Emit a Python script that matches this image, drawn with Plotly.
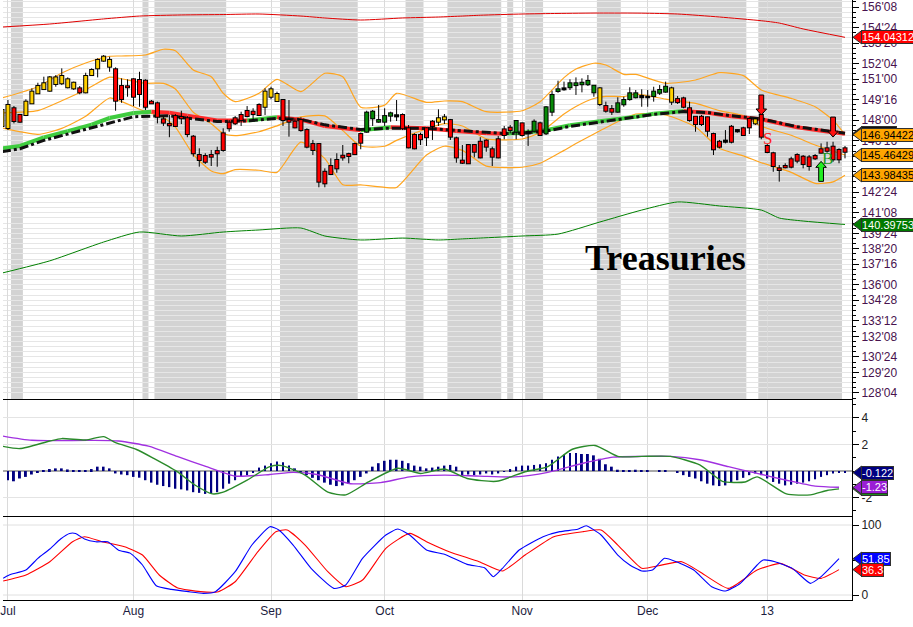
import numpy as np
import plotly.graph_objects as go
from plotly.subplots import make_subplots

FONT = "Liberation Sans, Arial, sans-serif"
SERIF = "Liberation Serif, Times New Roman, serif"
W, H = 913, 627
MR, MB = 61, 27
PLOT_W, PLOT_H = W - MR, H - MB

# ---------------------------------------------------------------------------
# Data: x is the trading-day index, 0 = Fri 29 Jun 2012, 141 = mid Jan 2013
# ---------------------------------------------------------------------------
MONTH_POS = [1, 22, 45, 64, 87, 108, 128]
MONTH_LABELS = ["Jul", "Aug", "Sep", "Oct", "Nov", "Dec", "13"]

OPEN = [147.58, 147.43, 148.87, 148.38, 148.38, 149.23, 149.96, 150.27, 150.15, 150.64,
        150.69, 150.40, 150.32, 150.32, 150.03, 151.29, 151.78, 152.34, 151.90, 151.71,
        150.49, 150.47, 150.98, 150.93, 150.88, 149.35, 149.23, 148.06, 147.72, 148.30,
        148.23, 148.14, 146.80, 145.46, 145.39, 145.46, 145.75, 147.04, 147.82, 148.14,
        148.38, 148.67, 148.62, 149.11, 148.98, 149.71, 149.40, 149.47, 148.01, 147.89,
        148.01, 147.28, 146.26, 146.26, 144.24, 144.66, 145.10, 145.41, 145.53, 146.26,
        146.99, 147.16, 148.14, 147.89, 147.89, 148.33, 148.36, 148.38, 147.41, 146.92,
        146.92, 147.41, 147.89, 147.89, 148.06, 148.01, 146.68, 145.05, 146.19, 146.19,
        146.43, 146.51, 145.88, 146.61, 147.33, 147.45, 147.16, 147.77, 147.14, 147.23,
        147.77, 147.04, 148.62, 150.13, 150.32, 150.40, 150.56, 150.62, 150.62, 150.03,
        149.18, 149.03, 148.81, 148.62, 149.16, 149.54, 149.67, 149.76, 149.71, 149.76,
        150.00, 150.08, 149.35, 149.54, 149.59, 148.87, 148.25, 148.25, 148.21, 146.99,
        146.43, 146.51, 147.52, 147.28, 147.41, 148.09, 147.77, 148.38, 146.12, 145.59,
        144.49, 144.66, 145.15, 145.46, 145.34, 145.29, 145.39, 145.88, 145.95, 146.07,
        145.83, 145.95]
HIGH = [149.11, 149.47, 149.03, 148.45, 149.52, 150.32, 150.73, 151.17, 151.22, 151.29,
        151.78, 151.12, 150.81, 150.49, 151.46, 151.78, 152.51, 152.75, 152.63, 151.85,
        151.05, 150.98, 151.05, 151.53, 150.98, 149.47, 149.35, 148.25, 148.38, 148.45,
        148.69, 148.30, 146.92, 145.95, 145.59, 145.83, 146.07, 147.41, 148.01, 148.30,
        148.62, 149.03, 148.87, 149.23, 150.32, 150.44, 150.08, 149.52, 149.47, 148.14,
        148.21, 147.41, 146.56, 146.31, 144.49, 145.22, 145.59, 146.19, 145.63, 146.36,
        147.09, 148.69, 148.74, 149.11, 148.87, 148.62, 149.47, 148.50, 147.65, 147.04,
        147.09, 147.48, 148.01, 148.79, 148.45, 148.09, 146.80, 146.19, 146.26, 146.26,
        146.76, 146.61, 146.07, 146.85, 147.58, 147.65, 148.01, 147.82, 147.33, 148.06,
        147.89, 149.03, 150.15, 150.88, 150.81, 150.98, 151.12, 151.05, 151.29, 150.56,
        150.40, 149.35, 149.11, 149.67, 149.71, 150.40, 150.20, 150.25, 150.20, 150.44,
        150.56, 150.81, 150.44, 149.76, 149.71, 149.35, 148.30, 148.38, 148.25, 147.09,
        146.56, 147.28, 147.65, 147.33, 147.52, 148.21, 148.18, 148.74, 146.26, 145.70,
        144.73, 144.86, 145.34, 145.59, 145.46, 145.46, 145.53, 146.31, 146.43, 146.43,
        145.95, 146.12]
LOW = [147.43, 147.28, 147.77, 147.82, 148.30, 149.18, 149.91, 150.20, 150.08, 150.44,
       150.56, 150.32, 150.20, 149.89, 149.96, 151.22, 151.12, 152.26, 151.53, 148.69,
       149.27, 149.71, 149.03, 148.98, 148.74, 149.18, 147.77, 147.58, 146.76, 147.52,
       147.72, 146.76, 145.34, 144.61, 144.81, 144.66, 144.61, 145.70, 147.16, 147.65,
       147.58, 148.21, 148.01, 148.30, 148.38, 149.52, 149.35, 147.58, 146.80, 147.41,
       147.16, 145.95, 145.46, 143.11, 143.11, 144.00, 144.17, 145.05, 144.86, 145.46,
       145.88, 147.09, 147.58, 147.82, 147.58, 147.89, 147.94, 147.28, 145.95, 145.88,
       146.19, 146.12, 146.56, 147.58, 147.72, 146.56, 144.90, 144.81, 144.81, 145.29,
       145.22, 145.70, 144.66, 145.22, 146.61, 147.04, 146.61, 146.80, 146.12, 147.09,
       146.85, 146.92, 148.30, 150.00, 150.15, 150.20, 149.84, 150.03, 150.49, 149.71,
       149.03, 148.55, 148.38, 148.55, 148.98, 149.42, 149.59, 148.98, 148.98, 149.35,
       149.84, 150.00, 149.11, 149.18, 148.87, 147.89, 147.16, 147.58, 146.80, 145.46,
       145.95, 146.31, 146.31, 147.09, 146.87, 146.99, 147.65, 146.61, 145.59, 144.24,
       143.52, 144.49, 144.49, 144.86, 144.49, 144.32, 145.10, 145.59, 145.63, 144.97,
       144.86, 145.22]
CLOSE = [148.74, 149.11, 147.94, 147.89, 149.35, 150.08, 150.49, 150.69, 151.12, 151.12,
         151.22, 150.98, 150.73, 150.03, 151.22, 151.66, 152.39, 152.63, 152.39, 149.42,
         149.54, 150.40, 149.71, 149.91, 148.98, 149.23, 148.25, 147.82, 147.63, 147.58,
         148.14, 146.99, 145.59, 145.10, 144.97, 145.34, 145.59, 145.83, 147.41, 147.77,
         148.01, 148.30, 148.45, 148.38, 150.08, 150.25, 149.91, 148.01, 147.89, 147.48,
         147.28, 146.07, 145.83, 143.52, 143.40, 144.08, 144.49, 145.29, 145.39, 145.53,
         146.36, 148.55, 148.62, 148.01, 148.30, 148.50, 148.28, 147.41, 146.02, 145.95,
         146.61, 146.76, 147.58, 148.14, 148.21, 146.80, 145.29, 144.90, 144.86, 145.70,
         145.29, 146.07, 145.34, 145.29, 146.92, 147.28, 147.94, 146.92, 147.04, 147.89,
         146.92, 148.94, 149.84, 150.25, 150.25, 150.69, 150.69, 150.73, 150.86, 150.51,
         150.32, 148.69, 148.62, 149.23, 149.47, 149.96, 149.96, 149.67, 149.67, 150.08,
         150.20, 150.44, 150.32, 149.32, 148.98, 148.01, 147.72, 147.72, 147.23, 145.88,
         146.07, 146.43, 146.43, 147.19, 146.92, 147.48, 148.06, 146.80, 145.68, 144.66,
         144.37, 144.57, 144.61, 145.05, 144.81, 144.66, 145.22, 145.63, 145.77, 145.15,
         145.15, 145.70]
# candle colouring: y = gold, g = green, r = red, k = doji (black)
CANDLE_KIND = ("yyrryyyyyy" "yyyryyyyyr" "rrrrrrrrrr" "rrrrrrrrrr" "rrrryyyrrr"
               "rrrrrrrrrr" "rgggggkrrr" "rrryyrrrrr" "rrrrrrgrkg" "rgggkggggg"
               "yrrggggkkg" "ggyrrrrrrr" "rkrkrryrrr" "rrrrrrrrrr" "rr")

# shaded regime bands, first and last bar of each
BAND_FIRST = [2, 24, 26, 47, 68, 75, 85, 88, 100, 112, 127]
BAND_LAST = [3, 24, 37, 59, 70, 83, 85, 90, 103, 124, 140]

# moving averages
MA_X = [0, 3, 7, 11, 15, 18, 22, 25, 28, 31, 36, 41, 46, 50, 54, 60, 65, 71, 76, 81,
        84, 87, 91, 95, 100, 106, 109, 114, 118, 122, 127, 133, 138, 141]
MA_FAST = [145.95, 146.12, 146.74, 147.20, 147.68, 148.16, 148.53, 148.62, 148.55, 148.32,
           147.98, 147.97, 148.21, 148.04, 147.58, 147.27, 147.48, 147.41, 147.22, 147.05,
           147.02, 147.09, 147.27, 147.64, 147.93, 148.25, 148.47, 148.67, 148.55, 148.29,
           148.07, 147.48, 147.18, 147.02]
MA_SLOW = [145.70, 145.92, 146.53, 146.98, 147.45, 147.82, 148.25, 148.30, 148.32, 148.15,
           147.90, 147.95, 148.13, 148.05, 147.66, 147.32, 147.42, 147.40, 147.25, 147.08,
           147.03, 147.05, 147.20, 147.55, 147.87, 148.20, 148.42, 148.63, 148.56, 148.32,
           148.10, 147.52, 147.20, 147.05]

# Bollinger bands
BB_X = [0, 6, 10, 14, 18, 20, 24, 27, 29, 32, 35, 37, 39, 43, 46, 50, 54, 57, 60, 64,
        66, 71, 74, 77, 81, 87, 90, 94, 96, 99, 101, 104, 106, 111, 116, 120, 124, 127,
        132, 136, 139, 141]
BB_UPPER = [149.62, 150.44, 151.44, 152.17, 152.66, 152.68, 152.75, 153.17, 153.06, 151.66,
            151.17, 149.96, 149.35, 149.96, 150.98, 150.08, 151.42, 151.17, 148.95, 149.10,
            149.96, 149.30, 149.40, 149.35, 148.62, 148.69, 149.35, 151.10, 151.73, 152.15,
            152.02, 151.34, 151.34, 150.69, 150.93, 151.46, 151.25, 150.20, 149.59, 148.98,
            148.00, 146.94]
BB_MID = [148.53, 148.70, 149.42, 150.22, 151.14, 151.02, 150.69, 150.69, 150.28, 148.58,
          147.74, 147.03, 146.88, 147.16, 147.59, 148.24, 148.31, 147.24, 146.12, 146.10,
          146.53, 147.38, 147.75, 147.58, 146.64, 146.63, 147.10, 148.45, 149.00, 149.58,
          149.74, 149.72, 149.90, 149.54, 149.22, 148.70, 148.33, 147.55, 146.90, 146.19,
          145.75, 145.46]
BB_LOWER = [147.43, 146.97, 147.40, 148.28, 149.62, 149.35, 148.62, 148.20, 147.50, 145.50,
            144.30, 144.10, 144.40, 144.35, 144.20, 146.40, 145.20, 143.30, 143.28, 143.10,
            143.10, 145.46, 146.10, 145.80, 144.65, 144.57, 144.86, 145.80, 146.30, 147.00,
            147.45, 148.10, 148.45, 148.38, 147.50, 145.95, 145.40, 144.90, 144.20, 143.40,
            143.50, 143.98]

# long-term envelope
ENV_X = [0, 8, 17, 23, 30, 37, 43, 50, 54, 60, 67, 73, 77, 80, 87, 93, 100, 107, 113,
         120, 127, 130, 134, 141]
ENV_UPPER = [154.79, 155.01, 155.38, 155.59, 155.67, 155.70, 155.74, 155.59, 155.45, 155.30,
             155.45, 155.52, 155.59, 155.65, 155.74, 155.78, 155.81, 155.80, 155.74, 155.52,
             155.25, 155.08, 154.65, 154.04]
ENV_LOWER = [136.86, 137.75, 139.12, 139.85, 139.56, 139.85, 140.00, 140.14, 139.56, 139.27,
             139.41, 139.27, 139.35, 139.41, 139.56, 139.70, 140.58, 141.45, 142.04, 141.75,
             141.45, 140.87, 140.65, 140.40]

# trade signals
SELL_X, SELL_Y = [127, 139], [148.38, 146.77]
BUY_X, BUY_Y = [137], [145.00]
SELL_TEXT_X, SELL_TEXT_Y = [128], [146.63]
BUY_TEXT_X, BUY_TEXT_Y = [138], [145.22]

# MACD panel
MACD_X = [0, 3, 8, 10, 14, 17, 19, 22.5, 25.3, 29.3, 32.2, 35.2, 37, 41, 44.8, 46.8, 50.7,
          54.5, 57.5, 61.3, 66.2, 70, 74, 77.8, 82.7, 87.5, 91.3, 95.3, 99.2, 103, 107,
          111.8, 116.7, 120.5, 124.3, 126.3, 131.2, 135.2, 138, 140]
MACD_LINE = [1.87, 1.69, 2.26, 2.44, 2.33, 2.59, 2.13, 1.62, 0.97, -0.05, -1.03, -1.72,
             -1.59, -0.69, 0.33, 0.41, -0.31, -1.59, -1.79, -0.82, 0.21, -0.18, 0.15, -0.56,
             -0.77, -0.05, 0.33, 1.62, 1.92, 1.10, 1.10, 1.10, 0.46, -0.77, -0.82, -0.44,
             -1.72, -1.79, -1.46, -1.34]
SIGNAL_X = [0, 5, 14.7, 19.5, 24.5, 29.3, 34.2, 39, 44.8, 48.7, 52.7, 58.3, 63.3, 68.2, 74,
            79.8, 85.7, 91.3, 97.2, 102.2, 107, 111.8, 116.7, 121.5, 126.3, 131.2, 136, 140]
SIGNAL_LINE = [2.64, 2.31, 2.31, 2.26, 1.87, 1.10, 0.33, -0.38, -0.26, -0.10, -0.26, -0.95,
               -0.87, -0.44, -0.31, -0.38, -0.44, -0.10, 0.59, 1.05, 1.10, 1.10, 0.85, 0.33,
               -0.18, -0.69, -1.13, -1.22]
HIST = [-0.60, -0.69, -0.77, -0.56, -0.44, -0.26, -0.10, 0.05, 0.15, 0.20,
        0.20, 0.12, 0.05, 0.08, 0.08, 0.15, 0.33, 0.33, 0.20, -0.18,
        -0.26, -0.31, -0.44, -0.50, -0.69, -0.87, -1.03, -1.13, -1.21, -1.33,
        -1.38, -1.46, -1.59, -1.64, -1.72, -1.72, -1.59, -1.33, -0.95, -0.69,
        -0.44, -0.31, -0.10, 0.26, 0.41, 0.59, 0.72, 0.67, 0.41, 0.20,
        -0.10, -0.31, -0.51, -0.69, -0.87, -1.03, -1.13, -1.08, -0.95, -0.69,
        -0.44, -0.18, 0.33, 0.59, 0.77, 0.85, 0.85, 0.77, 0.59, 0.41,
        0.33, 0.20, 0.26, 0.33, 0.41, 0.46, 0.33, -0.31, -0.26, -0.31,
        -0.26, -0.18, -0.26, -0.18, -0.05, 0.15, 0.33, 0.41, 0.41, 0.46,
        0.51, 0.59, 0.85, 1.10, 1.23, 1.36, 1.36, 1.28, 1.28, 1.18,
        0.92, 0.51, 0.33, 0.10, 0.08, 0.08, 0.10, 0.03, 0.03, 0.00,
        0.08, 0.08, 0.00, -0.10, -0.31, -0.44, -0.56, -0.77, -0.95, -1.08,
        -1.13, -1.08, -0.87, -0.69, -0.51, -0.31, -0.18, -0.31, -0.56, -0.82,
        -0.95, -1.08, -1.03, -0.95, -0.87, -0.77, -0.62, -0.44, -0.31, -0.18,
        -0.10, -0.12]

# stochastic panel
K_X = [0.2, 1.2, 4, 6, 8, 9.8, 11.3, 12.3, 13.8, 15.7, 17.7, 19.5, 21.5, 23.5, 25.8, 28.3,
       31.2, 33.7, 35.7, 39, 41.8, 44.8, 46.3, 48.7, 51.7, 55.5, 57.5, 60.3, 64.2, 66.2,
       68.2, 71, 74, 77.8, 80.7, 82.2, 83.7, 86.5, 90.5, 93.3, 96.3, 97.7, 100.2, 103, 105,
       107, 108.8, 110.8, 112.8, 115.7, 118.7, 121, 123.5, 126.3, 127.3, 129.3, 132.2,
       135.2, 137, 140]
K_VAL = [23.8, 28.6, 35.7, 52.4, 65.7, 80, 88, 88, 80, 76, 76, 64, 59.5, 42.9, 13.3, 8.1,
         4.8, 2.4, 4.8, 33.3, 71.4, 97.6, 92.9, 71.4, 38.1, 9.5, 14.3, 52.4, 85.7, 94.3,
         85.7, 64.3, 58.1, 43.8, 39, 26.2, 38.1, 64.3, 83.3, 90.5, 93.8, 99, 85.7, 57.1,
         42.9, 34.3, 35.7, 52.4, 47.6, 35.7, 11.9, 5.7, 16.7, 42.9, 50, 47.6, 38.1, 16.7,
         26.2, 51.85]
D_X = [0.2, 4, 8, 11.8, 13.8, 16.7, 20.5, 23.5, 26.3, 29.3, 33.2, 36.2, 39, 42.8, 45.8,
       47.7, 50.7, 54.5, 57.5, 60.3, 64.2, 68.2, 71, 74.8, 79.8, 83.7, 87.5, 92.3, 97.2,
       100.2, 103, 107, 109.8, 113.7, 116.7, 121.5, 126.3, 130.2, 134.2, 137, 140]
D_VAL = [20, 28.6, 47.6, 76.2, 83.3, 76.2, 69, 57.1, 28.6, 10.5, 4.8, 4.8, 19, 61.9, 90.5,
         92.9, 71.4, 33.3, 11.9, 21.4, 66.7, 88, 76.2, 61.9, 47.6, 34.3, 57.1, 83.3, 90.5,
         92.9, 71.4, 38.1, 41.9, 47.6, 33.3, 9.5, 35.7, 45.2, 28.6, 23.8, 36.3]

# last-value tags: (axis, value, text, background, text colour)
TAGS = [
    ("y", 154.04312, "154.04312", "#ff0000", "white"),
    ("y", 147.04, "147.04", "#111111", "white"),
    ("y", 146.94422, "146.94422", "#ffa500", "black"),
    ("y", 145.46429, "145.46429", "#ffa500", "black"),
    ("y", 143.98435, "143.98435", "#ffa500", "black"),
    ("y", 140.39753, "140.39753", "#007a00", "white"),
    ("y2", -0.122, "-0.122", "#000080", "white"),
    ("y2", -1.34, "-1.34", "#1a8a1a", "white"),
    ("y2", -1.23, "-1.23", "#9a1ed6", "white"),
    ("y3", 51.85, "51.85", "#0000ff", "white"),
    ("y3", 36.3, "36.3", "#ff0000", "white"),
]

# price axis in 32nds
PRICE_TICKS = [128.125, 129.625, 130.75, 132.25, 133.375, 134.875, 136.0, 137.5, 138.625,
               139.75, 141.25, 142.75, 143.875, 145.375, 146.5, 148.0, 149.5, 151.0,
               152.125, 153.625, 154.75, 156.25]

# ---------------------------------------------------------------------------
X_RANGE = [0.17, 142.17]
PRICE_RANGE = [127.68, 156.76]
MACD_RANGE = [-3.38, 5.34]
STOCH_RANGE = [-7.1, 111.4]
PRICE_DOM = [0.335, 1.0]
MACD_DOM = [0.14, 0.3333]
STOCH_DOM = [0.0, 0.1383]

GOLD, GREEN, RED = "#ffd000", "#078a07", "#ff0000"


def ppu(rng, dom):
    return (dom[1] - dom[0]) * PLOT_H / (rng[1] - rng[0])


PPU = {"y": ppu(PRICE_RANGE, PRICE_DOM), "y2": ppu(MACD_RANGE, MACD_DOM),
       "y3": ppu(STOCH_RANGE, STOCH_DOM)}
X_PPU = PLOT_W / (X_RANGE[1] - X_RANGE[0])


def segs(xs, y0s, y1s):
    X, Y = [], []
    for x, a, b in zip(xs, y0s, y1s):
        X += [x, x, None]
        Y += [a, b, None]
    return X, Y


def fmt32(v):
    whole = int(np.floor(v))
    return f"{whole}'{int(round((v - whole) * 32)):02d}"


fig = make_subplots(rows=3, cols=1, shared_xaxes=True, vertical_spacing=0)

line_kw = dict(mode="lines", hoverinfo="skip", showlegend=False)

# envelopes and bands
fig.add_trace(go.Scatter(x=ENV_X, y=ENV_UPPER, line=dict(color="#e00000", width=1, shape="spline", smoothing=0.6), **line_kw), 1, 1)
fig.add_trace(go.Scatter(x=ENV_X, y=ENV_LOWER, line=dict(color="#008000", width=1, shape="spline", smoothing=0.6), **line_kw), 1, 1)
for ys in (BB_UPPER, BB_MID, BB_LOWER):
    fig.add_trace(go.Scatter(x=BB_X, y=ys, line=dict(color="#ffa51f", width=1.2, shape="spline", smoothing=0.6), **line_kw), 1, 1)

# fast MA coloured by slope, slow MA dash-dot
up_x, up_y, dn_x, dn_y = [], [], [], []
for k in range(len(MA_X) - 1):
    tx, ty = (up_x, up_y) if MA_FAST[k + 1] >= MA_FAST[k] else (dn_x, dn_y)
    tx += [MA_X[k], MA_X[k + 1], None]
    ty += [MA_FAST[k], MA_FAST[k + 1], None]
fig.add_trace(go.Scatter(x=up_x, y=up_y, line=dict(color="#3fcc3f", width=4), **line_kw), 1, 1)
fig.add_trace(go.Scatter(x=dn_x, y=dn_y, line=dict(color="#ff2a2a", width=4), **line_kw), 1, 1)
fig.add_trace(go.Scatter(x=MA_X, y=MA_SLOW, line=dict(color="#111111", width=3, dash="dashdot"), **line_kw), 1, 1)

# candles
o, hi, lo, c = (np.array(a) for a in (OPEN, HIGH, LOW, CLOSE))
top, bot = np.maximum(o, c), np.minimum(o, c)
idx = np.arange(len(o))
kinds = np.array(list(CANDLE_KIND))
pad = 1.0 / PPU["y"]

wx1, wy1 = segs(idx, hi, top)
wx2, wy2 = segs(idx, bot, lo)
fig.add_trace(go.Scatter(x=wx1 + wx2, y=wy1 + wy2, line=dict(color="black", width=1), **line_kw), 1, 1)
bx, by = segs(idx, bot - pad, top + pad)
fig.add_trace(go.Scatter(x=bx, y=by, line=dict(color="black", width=5), **line_kw), 1, 1)
for kind, col in (("y", GOLD), ("g", GREEN), ("r", RED)):
    m = kinds == kind
    fx, fy = segs(idx[m], bot[m], top[m])
    fig.add_trace(go.Scatter(x=fx, y=fy, line=dict(color=col, width=3), **line_kw), 1, 1)

# MACD
fig.add_trace(go.Bar(x=idx, y=HIST, width=0.32, marker=dict(color="#000080", line=dict(width=0)),
                     hoverinfo="skip", showlegend=False), 2, 1)
fig.add_trace(go.Scatter(x=SIGNAL_X, y=SIGNAL_LINE, line=dict(color="#a030e0", width=1.4, shape="spline", smoothing=0.6), **line_kw), 2, 1)
fig.add_trace(go.Scatter(x=MACD_X, y=MACD_LINE, line=dict(color="#2a8a2a", width=1.4, shape="spline", smoothing=0.6), **line_kw), 2, 1)

# stochastic
fig.add_hline(y=80, line=dict(color="#808080", width=1.5), row=3, col=1)
fig.add_hline(y=20, line=dict(color="#808080", width=1.5), row=3, col=1)
fig.add_trace(go.Scatter(x=D_X, y=D_VAL, line=dict(color="#ff0000", width=1.1, shape="spline", smoothing=0.5), **line_kw), 3, 1)
fig.add_trace(go.Scatter(x=K_X, y=K_VAL, line=dict(color="#0000ff", width=1.1, shape="spline", smoothing=0.5), **line_kw), 3, 1)

# shaded regime bands (under the grid)
for a, b in zip(BAND_FIRST, BAND_LAST):
    fig.add_shape(type="rect", xref="x", yref="y domain", x0=a - 0.5, x1=b + 0.5, y0=0, y1=1,
                  fillcolor="#d3d3d3", line=dict(width=0), layer="below")


# signal arrows
def block_arrow(x, tip, down, fill):
    d = 1 if down else -1
    hh, L = 6 / PPU["y"], 20 / PPU["y"]
    hw, sw = 5.3 / X_PPU, 2.4 / X_PPU
    pts = [(x, tip), (x - hw, tip + d * hh), (x - sw, tip + d * hh), (x - sw, tip + d * L),
           (x + sw, tip + d * L), (x + sw, tip + d * hh), (x + hw, tip + d * hh)]
    path = "M " + " L ".join(f"{px},{py}" for px, py in pts) + " Z"
    fig.add_shape(type="path", xref="x", yref="y", path=path, fillcolor=fill,
                  line=dict(color="black", width=1), layer="above")


for x, y in zip(SELL_X, SELL_Y):
    block_arrow(x, y, True, "#ff1010")
for x, y in zip(BUY_X, BUY_Y):
    block_arrow(x, y, False, "#22ee22")
for x, y in zip(SELL_TEXT_X, SELL_TEXT_Y):
    fig.add_annotation(x=x, y=y, xref="x", yref="y", text="S", showarrow=False,
                       font=dict(family=SERIF, size=17, color="#ff2020"))
for x, y in zip(BUY_TEXT_X, BUY_TEXT_Y):
    fig.add_annotation(x=x, y=y, xref="x", yref="y", text="B", showarrow=False,
                       font=dict(family=SERIF, size=17, color="#1f9a1f"))

fig.add_annotation(xref="paper", yref="paper", x=665 / PLOT_W, y=1 - 258 / PLOT_H,
                   xanchor="center", yanchor="middle",
                   text="<b>Treasuries</b>", showarrow=False,
                   font=dict(family=SERIF, size=36, color="black"))

# last-value tags with pointer on the right axis
for yref, val, text, bg, fg in TAGS:
    h = 6.5 / PPU[yref]
    x0, x1 = 1 + 1 / PLOT_W, 1 + 9.5 / PLOT_W
    fig.add_shape(type="path", xref="paper", yref=yref,
                  path=f"M {x0},{val} L {x1},{val + h} L {x1},{val - h} Z",
                  fillcolor=bg, line=dict(color="#303030", width=1), layer="above")
    fig.add_annotation(xref="paper", yref=yref, x=1, y=val, xanchor="left", xshift=9,
                       text=text, showarrow=False, bgcolor=bg, bordercolor="#303030",
                       borderwidth=1, borderpad=0,
                       font=dict(family=FONT, size=11, color=fg))

# axes
fig.update_xaxes(range=X_RANGE, tickvals=MONTH_POS, ticktext=MONTH_LABELS, showgrid=True,
                 gridcolor="#dadada", gridwidth=1, zeroline=False, showline=True,
                 linecolor="black", linewidth=1, ticks="", ticklabeloverflow="allow",
                 tickfont=dict(family=FONT, size=12, color="#1c1c40"))
fig.update_xaxes(showticklabels=True, row=3, col=1)

minor_vals = list(np.arange(PRICE_TICKS[0] - 0.375, PRICE_RANGE[1], 0.375))
fig.update_yaxes(domain=PRICE_DOM, range=PRICE_RANGE, side="right", tickvals=PRICE_TICKS,
                 ticktext=[fmt32(v) for v in PRICE_TICKS], ticks="outside", ticklen=6,
                 tickcolor="black", showline=True, linecolor="black", linewidth=1,
                 showgrid=True, gridcolor="#e6e6e6", zeroline=False,
                 minor=dict(tickmode="array", tickvals=minor_vals, ticks="outside", ticklen=3,
                            tickcolor="black", showgrid=True, gridcolor="#e6e6e6"),
                 tickfont=dict(family=FONT, size=12, color="#48124e"), row=1, col=1)
fig.update_yaxes(domain=MACD_DOM, range=MACD_RANGE, side="right", tickvals=[-2, 0, 2, 4],
                 ticktext=["-2", "0", "2", "4"], ticks="outside", ticklen=6, tickcolor="black",
                 showline=True, linecolor="black", linewidth=1, showgrid=True,
                 gridcolor="#e4e4e4", zeroline=True, zerolinecolor="#a8a8a8", zerolinewidth=1.5,
                 minor=dict(tickmode="array", tickvals=[-3, -1, 1, 3, 5], ticks="outside",
                            ticklen=3, tickcolor="black"),
                 tickfont=dict(family=FONT, size=12, color="#222222"), row=2, col=1)
fig.update_yaxes(domain=STOCH_DOM, range=STOCH_RANGE, side="right", tickvals=[0, 50, 100],
                 ticks="outside", ticklen=6, tickcolor="black", showline=True,
                 linecolor="black", linewidth=1, showgrid=False, zeroline=False,
                 tickfont=dict(family=FONT, size=12, color="#222222"), row=3, col=1)
fig.add_hline(y=100, line=dict(color="#e0e0e0", width=1), row=3, col=1, layer="below")
fig.add_hline(y=0, line=dict(color="#e0e0e0", width=1), row=3, col=1, layer="below")

fig.update_layout(width=W, height=H, margin=dict(l=0, r=MR, t=0, b=MB),
                  paper_bgcolor="white", plot_bgcolor="white", showlegend=False,
                  hovermode=False, font=dict(family=FONT))

fig.write_html("out.html", config={"displayModeBar": False},
               post_script="document.body.style.margin='0';")
